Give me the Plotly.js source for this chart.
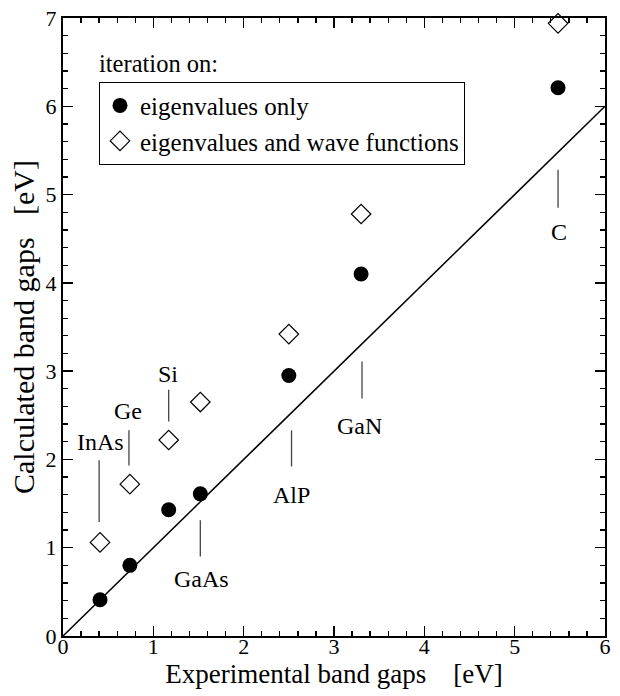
<!DOCTYPE html>
<html>
<head>
<meta charset="utf-8">
<script src="https://cdn.plot.ly/plotly-3.0.1.min.js"></script>
<style>html,body{margin:0;padding:0;background:#fff;}#chart{width:620px;height:696px;}</style>
</head>
<body>
<div id="chart"></div>
<script>
// Data
const materials = ["InAs", "Ge", "Si", "GaAs", "AlP", "GaN", "C"];
const expGap   = [0.41, 0.74, 1.17, 1.52, 2.50, 3.30, 5.48];
const eigOnly  = [0.41, 0.80, 1.43, 1.61, 2.95, 4.10, 6.21];
const eigWave  = [1.06, 1.72, 2.22, 2.65, 3.42, 4.78, 6.94];
// label annotations (text centre) and pointer lines
const labelX    = [0.41, 0.72, 1.16, 1.53, 2.53, 3.28, 5.49];
const labelY    = [2.20, 2.55, 2.97, 0.645, 1.60, 2.38, 4.58];
const lineX     = [0.40, 0.73, 1.17, 1.52, 2.53, 3.31, 5.48];
const lineLow   = [1.29, 1.93, 2.43, 0.90, 1.92, 2.69, 4.85];
const lineHigh  = [1.99, 2.33, 2.79, 1.31, 2.33, 3.11, 5.28];
const diagX = [0, 6];
const diagY = [0, 6];
const seriesNames = ["eigenvalues only", "eigenvalues and wave functions"];

const FONT = "Liberation Serif";

const traces = [
  {x: diagX, y: diagY, mode: "lines", line: {color: "#000", width: 1.5}, showlegend: false, hoverinfo: "skip"},
  {x: expGap, y: eigOnly, mode: "markers", name: seriesNames[0], cliponaxis: false,
   marker: {symbol: "circle", size: 15, color: "#000"}},
  {x: expGap, y: eigWave, mode: "markers", name: seriesNames[1], cliponaxis: false,
   marker: {symbol: "diamond-open", size: 15, color: "#000", line: {width: 1.2}}}
];

const shapes = materials.map((m, i) => ({
  type: "line", xref: "x", yref: "y",
  x0: lineX[i], x1: lineX[i], y0: lineLow[i], y1: lineHigh[i],
  line: {color: "#444", width: 1.3}
}));

const annotations = materials.map((m, i) => ({
  x: labelX[i], y: labelY[i], xref: "x", yref: "y", text: m, showarrow: false,
  font: {family: FONT, size: 24, color: "#000"}, xanchor: "center", yanchor: "middle"
}));
annotations.push({
  x: 0.38, y: 6.48, xref: "x", yref: "y", text: "iteration on:", showarrow: false,
  font: {family: FONT, size: 24.5, color: "#000"}, xanchor: "left", yanchor: "middle"
});

const axisCommon = {
  showline: true, linecolor: "#000", linewidth: 2, mirror: "allticks",
  ticks: "inside", ticklen: 10, tickwidth: 1.3, tickcolor: "#000",
  showgrid: false, zeroline: false, dtick: 1,
  tickfont: {family: FONT, size: 22, color: "#000"},
  minor: {ticks: "inside", ticklen: 5, tickwidth: 1.3, tickcolor: "#000", dtick: 0.2, showgrid: false}
};

const layout = {
  width: 620, height: 696,
  margin: {l: 63, r: 15, t: 18, b: 60},
  paper_bgcolor: "#fff", plot_bgcolor: "#fff",
  font: {family: FONT, color: "#000"},
  xaxis: Object.assign({}, axisCommon, {
    range: [0, 6], ticklabelstandoff: -10,
    title: {text: "Experimental band gaps    [eV]", font: {family: FONT, size: 27}, standoff: 6}
  }),
  yaxis: Object.assign({}, axisCommon, {
    range: [0, 7],
    title: {text: "Calculated band gaps   [eV]\u00a0\u00a0\u00a0", font: {family: FONT, size: 30}, standoff: 2}
  }),
  legend: {
    x: 0.0664, y: 0.897, xanchor: "left", yanchor: "top",
    bordercolor: "#000", borderwidth: 1, bgcolor: "#fff",
    font: {family: FONT, size: 25, color: "#000"},
    itemwidth: 30, tracegroupgap: 0
  },
  shapes: shapes,
  annotations: annotations,
  showlegend: true
};

Plotly.newPlot("chart", traces, layout, {displayModeBar: false, staticPlot: true});
</script>
</body>
</html>
